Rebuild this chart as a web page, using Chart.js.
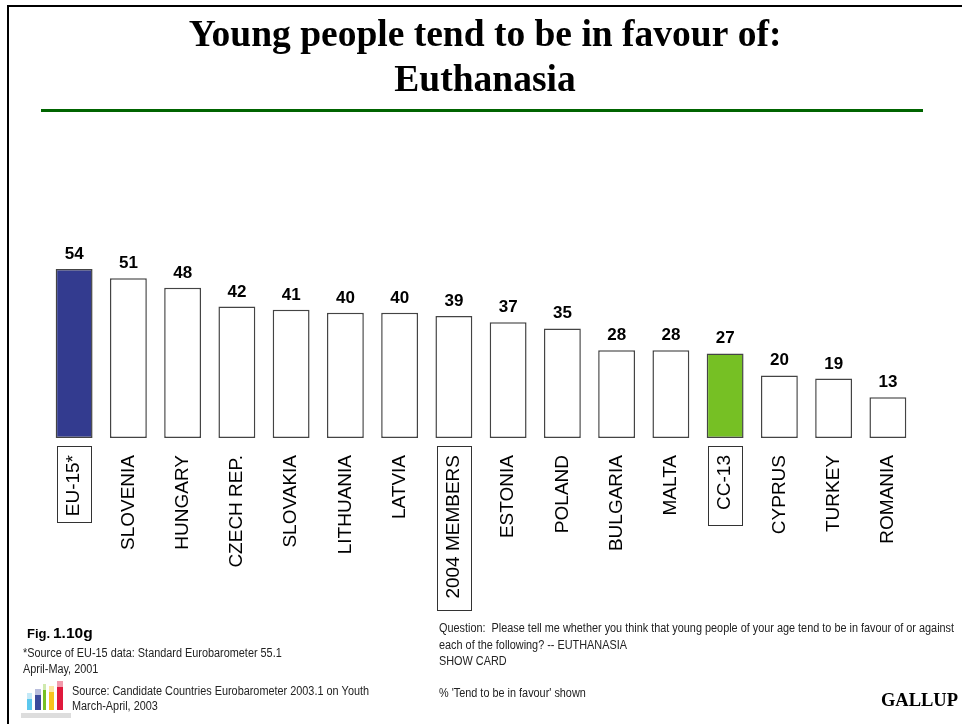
<!DOCTYPE html>
<html><head><meta charset="utf-8">
<style>html,body{margin:0;padding:0;background:#fff}canvas{display:block}#w{width:962px;height:724px;position:relative}</style>
<script src="https://cdn.jsdelivr.net/npm/chart.js@4"></script></head>
<body><div id="w"><canvas id="c" width="962" height="724"></canvas></div>
<script>
const categories=["EU-15*","SLOVENIA","HUNGARY","CZECH REP.","SLOVAKIA","LITHUANIA","LATVIA","2004 MEMBERS","ESTONIA","POLAND","BULGARIA","MALTA","CC-13","CYPRUS","TURKEY","ROMANIA"];
const values=[54,51,48,42,41,40,40,39,37,35,28,28,27,20,19,13];
const boxedLabels=["EU-15*","2004 MEMBERS","CC-13"];
const boxedLengths=[76,164,79];
const fillColors={"EU-15*":"#333b8f","CC-13":"#76c024"};
const titleLines=["Young people tend to be in favour of:","Euthanasia"];
const leftNotes=["*Source of EU-15 data: Standard Eurobarometer 55.1","April-May, 2001"];
const sourceNotes=["Source: Candidate Countries Eurobarometer 2003.1 on Youth","March-April, 2003"];
const questionNotes=["Question:  Please tell me whether you think that young people of your age tend to be in favour of or against","each of the following? -- EUTHANASIA","SHOW CARD"];
const shownNote="% 'Tend to be in favour' shown";

const decor={id:'decor',
 afterDatasetsDraw(ch){
  const c=ch.ctx,meta=ch.getDatasetMeta(0);
  c.save();
  c.fillStyle='#000';c.font='bold 17px "Liberation Sans"';c.textAlign='center';c.textBaseline='alphabetic';
  meta.data.forEach((b,i)=>c.fillText(String(values[i]),b.x,b.y-10));
  c.restore();
 },
 afterDraw(ch){
  const c=ch.ctx,xs=ch.scales.x;
  c.save();
  // slide frame and rule
  c.fillStyle='#000';c.fillRect(7,5,955,2);c.fillRect(7,5,2,719);
  c.fillStyle='#006400';c.fillRect(41,109,882,3);
  // title
  c.fillStyle='#000';c.textAlign='center';c.textBaseline='alphabetic';
  c.font='bold 37.5px "Liberation Serif"';
  titleLines.forEach((t,i)=>c.fillText(t,485,46+i*45));
  // boxes around summary labels
  c.strokeStyle='#333';c.lineWidth=1;
  boxedLabels.forEach((l,k)=>{
   const i=categories.indexOf(l),x=xs.getPixelForTick(i);
   c.strokeRect(Math.round(x-17)+.5,446.5,34,boxedLengths[k]);
  });
  // footnotes
  c.fillStyle='#000';c.textAlign='left';
  c.font='bold 13px "Liberation Sans"';c.fillText('Fig.',27,638);
  c.font='bold 15.5px "Liberation Sans"';c.fillText('1.10g',53,638);
  c.font='12.5px "Liberation Sans"';c.fillStyle='#222';
  const sx=.87;
  c.save();c.scale(sx,1);
  leftNotes.forEach((t,i)=>c.fillText(t,23/sx,657+i*16));
  sourceNotes.forEach((t,i)=>c.fillText(t,72/sx,695+i*15));
  questionNotes.forEach((t,i)=>c.fillText(t,439/sx,632+i*16.5));
  c.fillText(shownNote,439/sx,697);
  c.restore();
  c.fillStyle='#000';c.font='bold 18.5px "Liberation Serif"';c.textAlign='right';c.fillText('GALLUP',958,706);
  // logo
  [[27,5,693,'#5cc8ee','#c4e9f7'],[35,6,689,'#3c4a9c','#b9bedd'],[43,3,684,'#76c024','#cfe9ae'],[49,5,686,'#f7c31c','#fbe6a4'],[57,6,681,'#e0183c','#f29aab']].forEach(([x,w,top,col,lite])=>{
   c.fillStyle=lite;c.fillRect(x,top,w,6);
   c.fillStyle=col;c.fillRect(x,top+6,w,710-top-6);
  });
  c.fillStyle='#ddd';c.fillRect(21,713,50,5);
  c.restore();
 }};

new Chart(document.getElementById('c'),{
 type:'bar',
 data:{labels:categories,datasets:[{data:values,
  backgroundColor:categories.map(l=>fillColors[l]||'#fff'),
  borderColor:'#444',borderWidth:1.5,borderSkipped:false,barPercentage:1,categoryPercentage:.68}]},
 plugins:[decor],
 options:{responsive:false,animation:false,
  layout:{padding:{left:47,right:47,top:125,bottom:0}},
  plugins:{legend:{display:false},tooltip:{enabled:false},title:{display:false}},
  scales:{
   y:{display:false,min:0,max:100},
   x:{afterFit(s){s.height=286;},
    grid:{display:false},border:{display:false},
    ticks:{color:'#000',font:{family:'"Liberation Sans"',size:19},minRotation:90,maxRotation:90,autoSkip:false,padding:9}}
  }}
});
</script></body></html>
